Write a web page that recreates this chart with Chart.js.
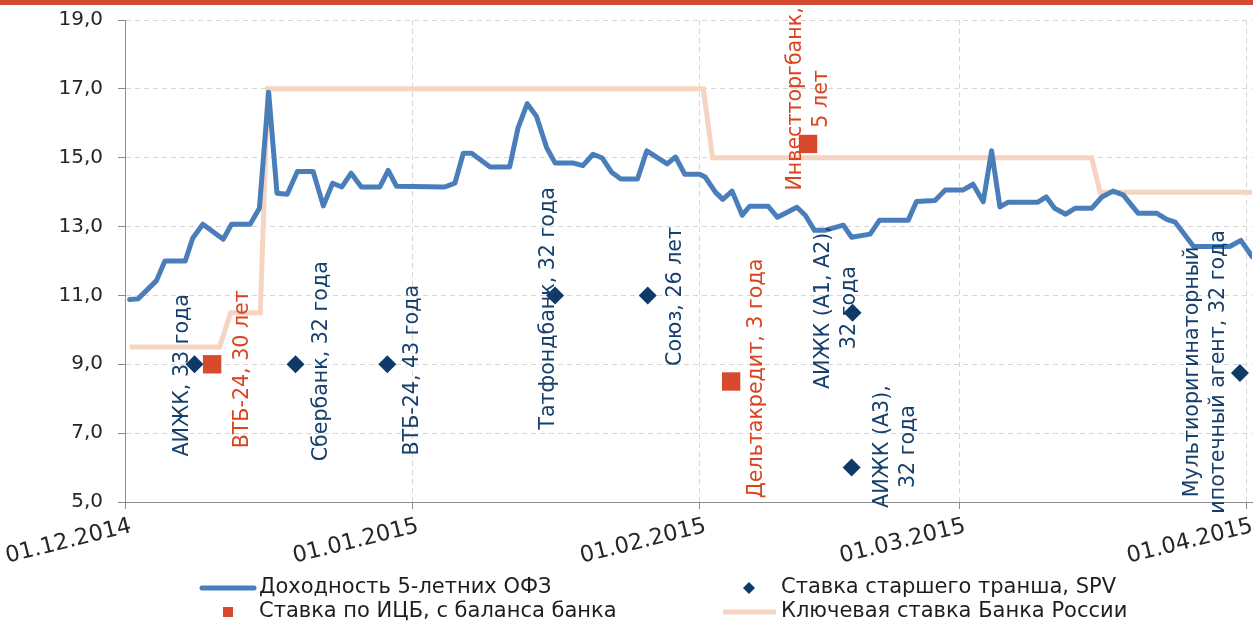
<!DOCTYPE html>
<html><head><meta charset="utf-8">
<script src="https://cdn.jsdelivr.net/npm/chart.js@4.4.1/dist/chart.umd.min.js"></script>
<style>html,body{margin:0;padding:0;background:#fff;}canvas{display:block}</style>
</head><body>
<canvas id="c" width="1253" height="626"></canvas>
<script>
// ---- data (x = days since 01.12.2014) ----
const tickDays = [0, 31, 62, 90, 121];
const tickLabels = ['01.12.2014', '01.01.2015', '01.02.2015', '01.03.2015', '01.04.2015'];

const ofzDays = [0.5,1.4,3.4,4.3,6.5,7.3,8.4,10.6,11.5,13.5,14.5,15.5,16.4,17.5,18.6,20.3,21.4,22.4,23.4,24.4,25.5,27.5,28.4,29.3,34.5,35.6,36.5,37.4,39.4,41.5,42.4,43.4,44.4,45.5,46.4,48.3,49.4,50.5,51.5,52.5,53.5,55.3,56.3,58.5,59.4,60.4,62.0,62.6,63.7,64.5,65.5,66.6,67.4,69.4,70.4,72.5,73.4,74.4,75.5,77.5,78.4,80.4,81.4,84.5,85.4,87.4,88.5,90.4,91.5,92.6,93.5,94.4,95.3,98.5,99.4,100.3,101.5,102.5,104.3,105.4,106.6,107.7,109.3,111.3,112.4,113.3,115.3,119.2,120.4,121.6];
const ofzValues = [10.88,10.9,11.43,12.0,12.0,12.66,13.07,12.63,13.07,13.07,13.53,16.9,13.97,13.94,14.6,14.6,13.6,14.26,14.15,14.55,14.15,14.15,14.63,14.17,14.15,14.26,15.13,15.13,14.73,14.73,15.86,16.57,16.2,15.29,14.85,14.85,14.77,15.1,14.99,14.58,14.38,14.38,15.2,14.82,15.02,14.52,14.52,14.44,14.0,13.79,14.03,13.33,13.59,13.59,13.27,13.56,13.33,12.89,12.89,13.04,12.69,12.78,13.18,13.18,13.73,13.76,14.06,14.06,14.23,13.72,15.2,13.57,13.71,13.71,13.86,13.53,13.36,13.53,13.53,13.86,14.03,13.92,13.39,13.39,13.21,13.13,12.42,12.42,12.6,12.13];

const keyDays = [0.5, 10.2, 11.4, 14.6, 15.4, 62.4, 63.4, 104.3, 105.2, 121.6];
const keyValues = [9.5, 9.5, 10.5, 10.5, 17, 17, 15, 15, 14, 14];

const spvDays = [7.5, 18.4, 28.3, 46.4, 56.4, 78.5, 78.4, 120.3];
const spvValues = [9.0, 9.0, 9.0, 11.0, 11.0, 10.5, 6.0, 8.75];
const spvNames = [['АИЖК, 33 года'], ['Сбербанк, 32 года'], ['ВТБ-24, 43 года'], ['Татфондбанк, 32 года'], ['Союз, 26 лет'], ['АИЖК (А1, А2),', '32 года'], ['АИЖК (А3),', '32 года'], ['Мультиоригинаторный', 'ипотечный агент, 32 года']];

const icbDays = [9.4, 65.4, 73.7];
const icbValues = [9.0, 8.5, 15.4];
const icbNames = [['ВТБ-24, 30 лет'], ['Дельтакредит, 3 года'], ['Инвестторгбанк,', '5 лет']];

const seriesNames = ['Доходность 5-летних ОФЗ', 'Ставка старшего транша, SPV', 'Ставка по ИЦБ, с баланса банка', 'Ключевая ставка Банка России'];

// ---- layout / style (pixel offsets of the rotated labels from their markers) ----
const spvLabelOffsets = [[-12, 11], [26, -3], [25, 6], [-6, 13], [28, 1], [-29, -5], [31, -21], [-47, -1]];
const icbLabelOffsets = [[31, 5], [26, -3], [-12, -45]];
const LINE_GAP = 26;
const FONT = "'DejaVu Sans', Verdana, sans-serif";
const C_BLUE = '#4A7EBB', C_KEY = '#F6D4C2', C_NAVY = '#0D3A66', C_RED = '#D84A2E';
const C_NAVY_TXT = '#163F6C', C_RED_TXT = '#D9441F';

Chart.defaults.font.family = FONT;
Chart.defaults.font.size = 20;
Chart.defaults.color = '#262626';

const toXY = (xs, ys) => xs.map((x, i) => ({x: x, y: ys[i]}));

const bgPlugin = {
  id: 'bg',
  beforeDraw(chart) {
    const c = chart.ctx;
    c.save();
    c.fillStyle = '#fff';
    c.fillRect(0, 0, chart.width, chart.height);
    c.fillStyle = '#D34A32';
    c.fillRect(0, 0, chart.width, 5);
    c.restore();
  }
};

// rotated date labels under the x axis, placed at the scale's tick pixels
const xLabelPlugin = {
  id: 'xLabels',
  afterDraw(chart) {
    const c = chart.ctx, sx = chart.scales.x, top = sx.top;
    c.save();
    c.font = '22.5px ' + FONT;
    c.fillStyle = '#262626';
    c.textAlign = 'right';
    c.textBaseline = 'middle';
    tickDays.forEach((d, i) => {
      c.save();
      c.translate(sx.getPixelForValue(d) + 6, top + 24);
      c.rotate(-14 * Math.PI / 180);
      c.fillText(tickLabels[i], 0, 0);
      c.restore();
    });
    c.restore();
  }
};

function drawVertical(c, lines, cx, cy, color) {
  c.save();
  c.fillStyle = color;
  c.font = '20.6px ' + FONT;
  c.textAlign = 'center';
  c.textBaseline = 'middle';
  lines.forEach((t, k) => {
    c.save();
    c.translate(cx + k * LINE_GAP, cy);
    c.rotate(-Math.PI / 2);
    c.fillText(t, 0, 0);
    c.restore();
  });
  c.restore();
}

const labelPlugin = {
  id: 'labels',
  afterDatasetsDraw(chart) {
    const c = chart.ctx;
    const groups = [[1, spvNames, spvLabelOffsets, C_NAVY_TXT], [2, icbNames, icbLabelOffsets, C_RED_TXT]];
    groups.forEach(([di, names, offs, col]) => {
      const meta = chart.getDatasetMeta(di);
      meta.data.forEach((pt, j) => {
        drawVertical(c, names[j], pt.x + offs[j][0], pt.y + offs[j][1], col);
      });
    });
  }
};

const legendPlugin = {
  id: 'customLegend',
  afterDraw(chart) {
    const c = chart.ctx;
    const ds = chart.data.datasets;
    c.save();
    c.font = '21px ' + FONT;
    c.fillStyle = '#1E1E1E';
    c.textAlign = 'left';
    c.textBaseline = 'middle';
    const r1 = 588, r2 = 612, t1 = 259, t2 = 781;
    c.strokeStyle = ds[0].borderColor; c.lineWidth = 5; c.lineCap = 'round';
    c.beginPath(); c.moveTo(202, r1); c.lineTo(254, r1); c.stroke();
    c.fillText(ds[0].label, t1, r1);
    c.fillStyle = ds[1].backgroundColor;
    c.beginPath(); c.moveTo(749, r1 - 6); c.lineTo(755, r1); c.lineTo(749, r1 + 6); c.lineTo(743, r1); c.closePath(); c.fill();
    c.fillStyle = '#1E1E1E';
    c.fillText(ds[1].label, t2, r1);
    c.fillStyle = ds[2].backgroundColor;
    c.fillRect(223, r2 - 5, 10, 10);
    c.fillStyle = '#1E1E1E';
    c.fillText(ds[2].label, t1, r2);
    c.strokeStyle = ds[3].borderColor; c.lineWidth = 5; c.lineCap = 'butt';
    c.beginPath(); c.moveTo(723, r2); c.lineTo(776, r2); c.stroke();
    c.fillText(ds[3].label, t2, r2);
    c.restore();
  }
};

const gridCommon = {color: '#D6D6D6', tickColor: '#8C8C8C', tickLength: 7, drawTicks: true, lineWidth: 1};
const borderCommon = {color: '#8C8C8C', width: 1, dash: [5, 4]};
const noPad = s => { s.paddingLeft = 0; s.paddingRight = 0; s.paddingTop = 0; s.paddingBottom = 0; };

new Chart(document.getElementById('c'), {
  type: 'line',
  data: {
    datasets: [
      {label: seriesNames[0], data: toXY(ofzDays, ofzValues), borderColor: C_BLUE, backgroundColor: C_BLUE,
       borderWidth: 5, pointRadius: 0, tension: 0, borderJoinStyle: 'round', borderCapStyle: 'round', order: 2},
      {label: seriesNames[1], data: toXY(spvDays, spvValues), showLine: false, pointStyle: 'rectRot',
       pointRadius: 9, pointBorderWidth: 0, backgroundColor: C_NAVY, borderColor: C_NAVY, order: 0},
      {label: seriesNames[2], data: toXY(icbDays, icbValues), showLine: false, pointStyle: 'rect',
       pointRadius: 13, pointBorderWidth: 0, backgroundColor: C_RED, borderColor: C_RED, order: 1},
      {label: seriesNames[3], data: toXY(keyDays, keyValues), borderColor: C_KEY, backgroundColor: C_KEY,
       borderWidth: 5, pointRadius: 0, tension: 0, borderJoinStyle: 'miter', order: 3}
    ]
  },
  options: {
    responsive: false,
    animation: false,
    devicePixelRatio: 1,
    layout: {autoPadding: false, padding: {top: 20, right: 1, bottom: 0, left: 0}},
    plugins: {legend: {display: false}, tooltip: {enabled: false}},
    scales: {
      x: {
        type: 'linear', min: 0, max: 121.6,
        afterBuildTicks: s => { s.ticks = tickDays.map(v => ({value: v})); },
        ticks: {display: false, autoSkip: false},
        grid: gridCommon, border: borderCommon,
        afterFit: s => { s.height = 124; noPad(s); }
      },
      y: {
        min: 5, max: 19,
        ticks: {stepSize: 2, padding: 15, callback: v => v.toFixed(1).replace('.', ',')},
        grid: gridCommon, border: borderCommon,
        afterFit: s => { s.width = 125; noPad(s); }
      }
    }
  },
  plugins: [bgPlugin, xLabelPlugin, labelPlugin, legendPlugin]
});
</script>
</body></html>
